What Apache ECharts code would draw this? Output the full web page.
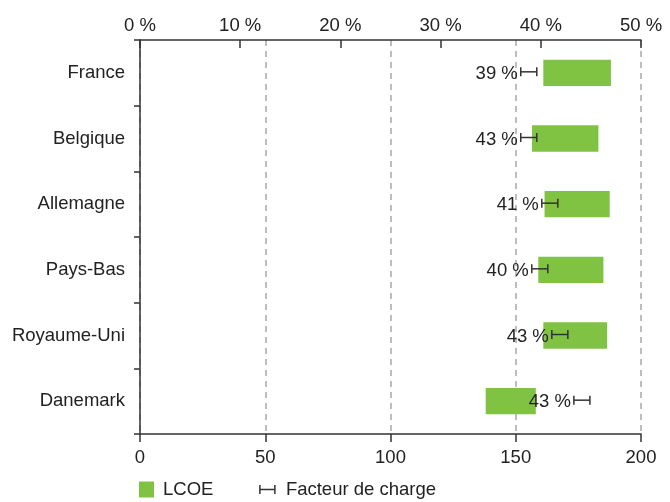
<!DOCTYPE html>
<html>
<head>
<meta charset="utf-8">
<script src="https://cdn.jsdelivr.net/npm/echarts@6/dist/echarts.min.js"></script>
<style>
html,body{margin:0;padding:0;background:#fff;}
#c{width:670px;height:502px;}
</style>
</head>
<body>
<div id="c"></div>
<script>
// Data
var categories = ['France', 'Belgique', 'Allemagne', 'Pays-Bas', 'Royaume-Uni', 'Danemark'];
var lcoeLow  = [161, 156.5, 161.5, 159, 161, 138];
var lcoeHigh = [188, 183, 187.5, 185, 186.5, 158];
var loadLow  = [38.0, 38.0, 40.1, 39.1, 41.1, 43.3];
var loadHigh = [39.6, 39.6, 41.7, 40.7, 42.7, 44.9];
var loadLabels = ['39 %', '43 %', '41 %', '40 %', '43 %', '43 %'];
var bottomTicks = [0, 50, 100, 150, 200];
var topTicks = [0, 10, 20, 30, 40, 50];

var FONT = 'Liberation Sans, Arial, Helvetica, sans-serif';
var FS = 18.5;
var TXT = '#222222';
var GREEN = '#80c342';
var BAR_DARK = '#333333';

var barData = categories.map(function (c, i) { return [lcoeLow[i], lcoeHigh[i], i]; });
var errData = categories.map(function (c, i) { return [loadLow[i], loadHigh[i], i, loadLabels[i]]; });

var chart = echarts.init(document.getElementById('c'), null, {renderer: 'canvas'});
chart.setOption({
  animation: false,
  backgroundColor: '#fff',
  textStyle: {fontFamily: FONT},
  grid: {left: 140, right: 29, top: 40, bottom: 68, containLabel: false},
  legend: {
    left: 134, top: 475,
    itemWidth: 15, itemHeight: 16, itemGap: 44,
    textStyle: {fontFamily: FONT, fontSize: FS, color: TXT},
    data: [
      {name: 'LCOE', icon: 'rect', itemStyle: {color: GREEN}, textStyle: {padding: [0, 0, 0, 4]}},
      {name: 'Facteur de charge',
       icon: 'path://M1,4 L1,12 M1,8 L14,8 M14,4 L14,12',
       itemStyle: {color: 'none', borderColor: BAR_DARK, borderWidth: 1.5},
       textStyle: {padding: [0, 0, 0, 6]}}
    ],
    selectedMode: false
  },
  xAxis: [
    {
      type: 'value', position: 'bottom', min: bottomTicks[0], max: bottomTicks[bottomTicks.length - 1],
      interval: 50,
      axisLine: {show: true, lineStyle: {color: BAR_DARK, width: 1.5}},
      axisTick: {show: true, inside: false, length: 8, lineStyle: {color: BAR_DARK, width: 1.5}},
      axisLabel: {fontSize: FS, color: TXT, margin: 14, fontFamily: FONT},
      splitLine: {show: true, lineStyle: {color: '#a8a8a8', type: [6, 5], width: 1.5}}
    },
    {
      type: 'value', position: 'top', min: topTicks[0], max: topTicks[topTicks.length - 1],
      interval: 10,
      axisLine: {show: true, lineStyle: {color: BAR_DARK, width: 1.5}},
      axisTick: {show: true, inside: true, length: 8, lineStyle: {color: BAR_DARK, width: 1.5}},
      axisLabel: {fontSize: FS, color: TXT, margin: 5, fontFamily: FONT, formatter: '{value} %'},
      splitLine: {show: false}
    }
  ],
  yAxis: {
    type: 'category', data: categories, inverse: true,
    axisLine: {show: true, lineStyle: {color: BAR_DARK, width: 1.5}},
    axisTick: {show: true, length: 6, lineStyle: {color: BAR_DARK, width: 1.5}},
    axisLabel: {fontSize: FS, color: TXT, margin: 15, fontFamily: FONT},
    splitLine: {show: false}
  },
  series: [
    {
      name: 'LCOE', type: 'custom', xAxisIndex: 0, yAxisIndex: 0,
      encode: {x: [0, 1], y: 2},
      data: barData,
      itemStyle: {color: GREEN},
      renderItem: function (params, api) {
        var p0 = api.coord([api.value(0), api.value(2)]);
        var p1 = api.coord([api.value(1), api.value(2)]);
        var h = api.size([0, 1])[1] * 0.4;
        return {
          type: 'rect',
          shape: {x: p0[0], y: p0[1] - h / 2, width: p1[0] - p0[0], height: h},
          style: {fill: GREEN}
        };
      },
      z: 2
    },
    {
      name: 'Facteur de charge', type: 'custom', xAxisIndex: 1, yAxisIndex: 0,
      encode: {x: [0, 1], y: 2},
      data: errData,
      itemStyle: {color: BAR_DARK},
      renderItem: function (params, api) {
        var p0 = api.coord([api.value(0), api.value(2)]);
        var p1 = api.coord([api.value(1), api.value(2)]);
        var y = p0[1] - 1;
        var cap = 4.5;
        var ls = {stroke: BAR_DARK, lineWidth: 1.5};
        return {
          type: 'group',
          children: [
            {type: 'line', shape: {x1: p0[0], y1: y, x2: p1[0], y2: y}, style: ls},
            {type: 'line', shape: {x1: p0[0], y1: y - cap, x2: p0[0], y2: y + cap}, style: ls},
            {type: 'line', shape: {x1: p1[0], y1: y - cap, x2: p1[0], y2: y + cap}, style: ls},
            {type: 'text', style: {
              x: p0[0] - 3, y: y + 2, text: errData[params.dataIndex][3],
              align: 'right', verticalAlign: 'middle',
              fontSize: FS, fontFamily: FONT, fill: TXT
            }}
          ]
        };
      },
      z: 3
    }
  ]
});
</script>
</body>
</html>
